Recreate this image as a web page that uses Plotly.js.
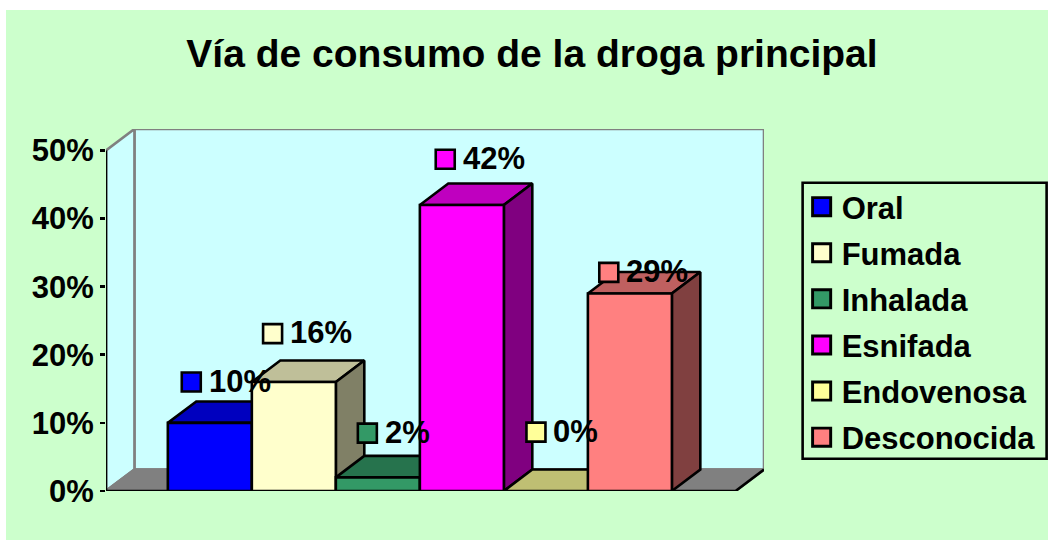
<!DOCTYPE html>
<html>
<head>
<meta charset="utf-8">
<script src="https://cdn.plot.ly/plotly-3.0.1.min.js"></script>
<style>
html,body{margin:0;padding:0;background:#fff;overflow:hidden}
#chart{position:absolute;left:6px;top:10px;width:1042px;height:530px}
</style>
</head>
<body>
<div id="chart"></div>
<script>
// data
const categories = ['Oral','Fumada','Inhalada','Esnifada','Endovenosa','Desconocida'];
const values = [0.10,0.16,0.02,0.42,0.00,0.29];
const yTicks = [0,0.1,0.2,0.3,0.4,0.5];

// styling
const frontColors = ['#0000FF','#FFFFCC','#339966','#FF00FF','#FFFF99','#FF8080'];
const topColors   = ['#0000BF','#BFBF99','#26734D','#BF00BF','#BFBF73','#BF6060'];
const sideColors  = ['#000080','#808066','#1A4D33','#800080','#808050','#804040'];

// label key positions, in axis units
const labelX = [0.279,1.247,2.375,3.302,4.382,5.249];
const labelY = [0.160,0.231,0.085,0.487,0.0865,0.321];

// 3D projection and floor extents, in axis units
const depthX = 0.3385, depthY = 0.0315;
const floorLeft = -0.736, floorRight = 6.758, wallTop = 0.5;
const barWidth = 1;
const lw = 2.6;

const skip = {hoverinfo:'skip', showlegend:false, cliponaxis:false};
function poly(pts, fill, line){
  const xs = pts.map(p=>p[0]).concat(pts[0][0]);
  const ys = pts.map(p=>p[1]).concat(pts[0][1]);
  return Object.assign({type:'scatter', mode:'lines', x:xs, y:ys, fill:'toself',
    fillcolor:fill, line:{color:line, width:lw}}, skip);
}
function seg(pts, color){
  return Object.assign({type:'scatter', mode:'lines', x:pts.map(p=>p[0]), y:pts.map(p=>p[1]),
    line:{color:color, width:lw}}, skip);
}

const traces = [];
const wallFill = '#CCFFFF', gray = '#808080';
// back wall
traces.push(poly([[floorLeft+depthX,depthY],[floorRight+depthX,depthY],[floorRight+depthX,wallTop+depthY],[floorLeft+depthX,wallTop+depthY]],wallFill,gray));
// left wall
traces.push(poly([[floorLeft,0],[floorLeft+depthX,depthY],[floorLeft+depthX,wallTop+depthY],[floorLeft,wallTop]],wallFill,gray));
// floor
traces.push(poly([[floorLeft,0],[floorRight,0],[floorRight+depthX,depthY],[floorLeft+depthX,depthY]],gray,gray));
traces.push(seg([[floorLeft,0],[floorRight,0],[floorRight+depthX,depthY]],'#000000'));
// value axis line
traces.push(seg([[floorLeft,0],[floorLeft,wallTop]],'#000000'));

// bars, left to right
values.forEach((v,i)=>{
  const l=i, r=i+barWidth;
  traces.push(poly([[l,v],[r,v],[r+depthX,v+depthY],[l+depthX,v+depthY]],topColors[i],'#000000'));
  if(v>0){
    traces.push(poly([[r,0],[r+depthX,depthY],[r+depthX,v+depthY],[r,v]],sideColors[i],'#000000'));
    traces.push(poly([[l,0],[r,0],[r,v],[l,v]],frontColors[i],'#000000'));
  }
});

// label keys, also the legend entries
categories.forEach((c,i)=>{
  traces.push({type:'scatter', mode:'markers', name:c, x:[labelX[i]], y:[labelY[i]],
    legendgroup:c, showlegend:true, hoverinfo:'skip', cliponaxis:false,
    marker:{symbol:'square', size:19, color:frontColors[i], line:{color:'#000000', width:lw}}});
});

const font = {family:'"Liberation Sans", Arial, sans-serif', color:'#000000'};
const annotations = values.map((v,i)=>({
  xref:'x', yref:'y', x:labelX[i], y:labelY[i], xshift:16.5, yshift:1, xanchor:'left', yanchor:'middle',
  text:Math.round(v*100)+'%', showarrow:false, borderpad:0,
  font:Object.assign({},font,{size:31,weight:700})
}));

const layout = {
  width:1042, height:530,
  paper_bgcolor:'#CCFFCC', plot_bgcolor:'rgba(0,0,0,0)',
  margin:{l:99.5,r:283.5,t:119,b:49,autoexpand:false},
  title:{text:'Vía de consumo de la droga principal', x:0.5048, xref:'container', xanchor:'center',
    yref:'container', y:0.918, yanchor:'middle',
    font:Object.assign({},font,{size:39,weight:700})},
  xaxis:{visible:false, range:[floorLeft, floorRight+depthX], fixedrange:true},
  yaxis:{range:[0,wallTop+depthY], tickvals:yTicks, tickformat:'.0%', ticks:'outside', ticklen:5,
    tickwidth:lw, tickcolor:'#000000', showgrid:false, zeroline:false, showline:false,
    ticklabelstandoff:0, fixedrange:true,
    tickfont:Object.assign({},font,{size:31,weight:700})},
  legend:{x:1.0572, xanchor:'left', y:0.8591, yanchor:'top', bgcolor:'rgba(0,0,0,0)',
    borderwidth:0, tracegroupgap:2.8, traceorder:'grouped',
    itemclick:false, itemdoubleclick:false,
    font:Object.assign({},font,{size:31,weight:700})},
  shapes:[{type:'rect', xref:'paper', yref:'paper', layer:'below',
    x0:1.0587, x1:1.4295, y0:0.0892, y1:0.8517,
    fillcolor:'#CCFFCC', line:{color:'#000000', width:lw}}],
  annotations:annotations,
  showlegend:true
};
Plotly.newPlot('chart', traces, layout, {displayModeBar:false, staticPlot:true}).then(()=>{
  // legend swatches are capped in size by the library; match the label keys
  document.querySelectorAll('#chart .legendpoints path').forEach(p=>{
    p.setAttribute('transform', (p.getAttribute('transform')||'')+' scale(1.13)');
  });
});
</script>
</body>
</html>
